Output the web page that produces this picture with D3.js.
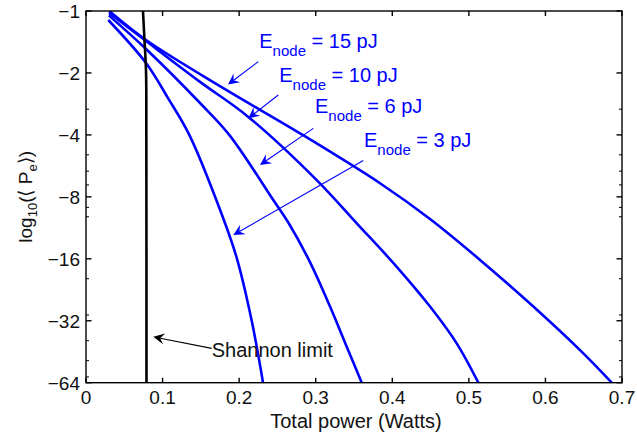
<!DOCTYPE html>
<html><head><meta charset="utf-8">
<script src="https://cdn.jsdelivr.net/npm/d3@7"></script>
<style>
body{margin:0;background:#fff}
svg{display:block}
text{font-family:"Liberation Sans",Arial,Helvetica,sans-serif}
</style>
</head><body>
<svg id="c" width="637" height="437"></svg>
<script>
// ---- data ----
const xTicks = [0, 0.1, 0.2, 0.3, 0.4, 0.5, 0.6, 0.7];
const xTickLabels = ["0", "0.1", "0.2", "0.3", "0.4", "0.5", "0.6", "0.7"];
const yTicks = [-1, -2, -4, -8, -16, -32, -64];
const yTickLabels = ["\u22121", "\u22122", "\u22124", "\u22128", "\u221216", "\u221232", "\u221264"];
const yMinorTicks = [-3, -5, -6, -7, -9, -10, -20, -30, -40, -50, -60];

const seriesNames = ["15", "10", "6", "3"];
const x15 = [0.0304, 0.0784, 0.1793, 0.2795, 0.384, 0.4493, 0.5146, 0.5842, 0.6495, 0.6866];
const y15 = [-1.0, -1.383, -2.37, -3.93, -6.87, -10.25, -16.2, -27.3, -46.1, -64];
const x10 = [0.0300, 0.0784, 0.1489, 0.212, 0.3013, 0.3536, 0.4058, 0.4493, 0.4841, 0.5124];
const y10 = [-1.02, -1.40, -2.21, -3.27, -6.63, -10.76, -17.5, -27.3, -41.2, -64];
const x6 = [0.0298, 0.0784, 0.1489, 0.1871, 0.2446, 0.2638, 0.2925, 0.3187, 0.3405, 0.3601];
const y6 = [-1.05, -1.53, -2.80, -4.0, -8.29, -10.6, -16.6, -27.3, -42.8, -64];
const x3 = [0.0291, 0.0784, 0.1071, 0.1349, 0.1792, 0.1972, 0.2164, 0.2312];
const y3 = [-1.106, -1.79, -2.65, -4.0, -10.17, -16, -32, -64];
const xShannon = [0.0744, 0.0762, 0.0784, 0.0788, 0.0790];
const yShannon = [-1.0, -1.35, -1.97, -4.0, -64];

// annotation labels (data coordinates): label anchor, arrow tail, arrow tip
const labelX = [0.2263, 0.2524, 0.2991, 0.3631];
const labelY = [-1.518, -2.206, -3.14, -4.57];
const arrowTailX = [0.225, 0.2511, 0.2969, 0.3622];
const arrowTailY = [-1.763, -2.56, -3.72, -5.33];
const arrowTipX = [0.1855, 0.212, 0.2272, 0.1924];
const arrowTipY = [-2.276, -3.32, -5.6, -12.26];
const shannonLabel = {x: 0.1642, y: -47.8, tailX: 0.1642, tailY: -43.6, tipX: 0.0879, tipY: -38.3};

// ---- layout ----
const L = 86, R = 622, T = 11, B = 382.7;
const svg = d3.select("#c");
const x = d3.scaleLinear().domain([0, 0.7]).range([L, R]);
const yl = d3.scaleLog().base(2).domain([1, 64]).range([T, B]);
const y = v => yl(-v);

svg.append("defs").append("clipPath").attr("id", "clip")
  .append("rect").attr("x", L).attr("y", T).attr("width", R - L).attr("height", B - T);

// ---- curves ----
const line = d3.line().x(d => x(d[0])).y(d => y(d[1])).curve(d3.curveCatmullRom.alpha(0.5));
const series = [[x15, y15], [x10, y10], [x6, y6], [x3, y3]];
const g = svg.append("g").attr("clip-path", "url(#clip)");
series.forEach(([xs, ys]) => {
  g.append("path").datum(xs.map((v, i) => [v, ys[i]]))
    .attr("d", line).attr("fill", "none").attr("stroke", "#0000ff")
    .attr("stroke-width", 2.6).attr("stroke-linejoin", "round");
});
g.append("path").datum(xShannon.map((v, i) => [v, yShannon[i]]))
  .attr("d", line).attr("fill", "none").attr("stroke", "#000").attr("stroke-width", 2.6);

// ---- axes box and ticks ----
const ax = svg.append("g").attr("stroke", "#000").attr("stroke-width", 1.4);
ax.append("rect").attr("x", L).attr("y", T).attr("width", R - L).attr("height", B - T).attr("fill", "none");
xTicks.forEach(t => {
  ax.append("line").attr("x1", x(t)).attr("x2", x(t)).attr("y1", B).attr("y2", B - 5);
  ax.append("line").attr("x1", x(t)).attr("x2", x(t)).attr("y1", T).attr("y2", T + 5);
});
yTicks.forEach(t => {
  ax.append("line").attr("x1", L).attr("x2", L + 5.5).attr("y1", y(t)).attr("y2", y(t));
  ax.append("line").attr("x1", R).attr("x2", R - 5.5).attr("y1", y(t)).attr("y2", y(t));
});
yMinorTicks.forEach(t => {
  ax.append("line").attr("x1", L).attr("x2", L + 3).attr("y1", y(t)).attr("y2", y(t)).attr("stroke-width", 1);
  ax.append("line").attr("x1", R).attr("x2", R - 3).attr("y1", y(t)).attr("y2", y(t)).attr("stroke-width", 1);
});

// tick labels
xTicks.forEach((t, i) => {
  svg.append("text").attr("x", x(t)).attr("y", B + 21.5).attr("text-anchor", "middle")
    .attr("font-size", 19).attr("fill", "#111").text(xTickLabels[i]);
});
yTicks.forEach((t, i) => {
  svg.append("text").attr("x", L - 6).attr("y", y(t) + 7).attr("text-anchor", "end")
    .attr("font-size", 19).attr("fill", "#111").text(yTickLabels[i]);
});

// axis labels
svg.append("text").attr("x", (L + R) / 2 + 2).attr("y", 427.5).attr("text-anchor", "middle")
  .attr("font-size", 20).attr("fill", "#111").text("Total power (Watts)");
const yLab = svg.append("text").attr("transform", `translate(32,${(T + B) / 2}) rotate(-90)`)
  .attr("text-anchor", "middle").attr("font-size", 19).attr("fill", "#111");
yLab.append("tspan").text("log");
yLab.append("tspan").attr("dy", 5).attr("font-size", 13).text("10");
yLab.append("tspan").attr("dy", -5).text("(\u27E8 P");
yLab.append("tspan").attr("dy", 5).attr("font-size", 13).text("e");
yLab.append("tspan").attr("dy", -5).text("\u27E9)");

// ---- annotations ----
function arrow(x1, y1, x2, y2, color, sw) {
  const X1 = x(x1), Y1 = y(y1), X2 = x(x2), Y2 = y(y2);
  const a = Math.atan2(Y2 - Y1, X2 - X1);
  const len = 11, hw = 5.5, back = 7;
  const ux = Math.cos(a), uy = Math.sin(a), nx = -uy, ny = ux;
  svg.append("line").attr("x1", X1).attr("y1", Y1).attr("x2", X2 - ux * back).attr("y2", Y2 - uy * back)
    .attr("stroke", color).attr("stroke-width", sw);
  const p = [
    [X2, Y2],
    [X2 - ux * len + nx * hw, Y2 - uy * len + ny * hw],
    [X2 - ux * back, Y2 - uy * back],
    [X2 - ux * len - nx * hw, Y2 - uy * len - ny * hw]
  ];
  svg.append("path").attr("d", "M" + p.map(q => q.join(",")).join("L") + "Z").attr("fill", color);
}
seriesNames.forEach((n, i) => {
  arrow(arrowTailX[i], arrowTailY[i], arrowTipX[i], arrowTipY[i], "#0000ff", 1.1);
  const t = svg.append("text").attr("x", x(labelX[i])).attr("y", y(labelY[i]))
    .attr("font-size", 20).attr("fill", "#0000ff");
  t.append("tspan").text("E");
  t.append("tspan").attr("dy", 8).attr("font-size", 15).text("node");
  t.append("tspan").attr("dy", -8).text(" = " + n + " pJ");
});
arrow(shannonLabel.tailX, shannonLabel.tailY, shannonLabel.tipX, shannonLabel.tipY, "#000", 1.1);
svg.append("text").attr("x", x(shannonLabel.x)).attr("y", y(shannonLabel.y))
  .attr("font-size", 20).attr("fill", "#111").text("Shannon limit");
</script>
</body></html>
